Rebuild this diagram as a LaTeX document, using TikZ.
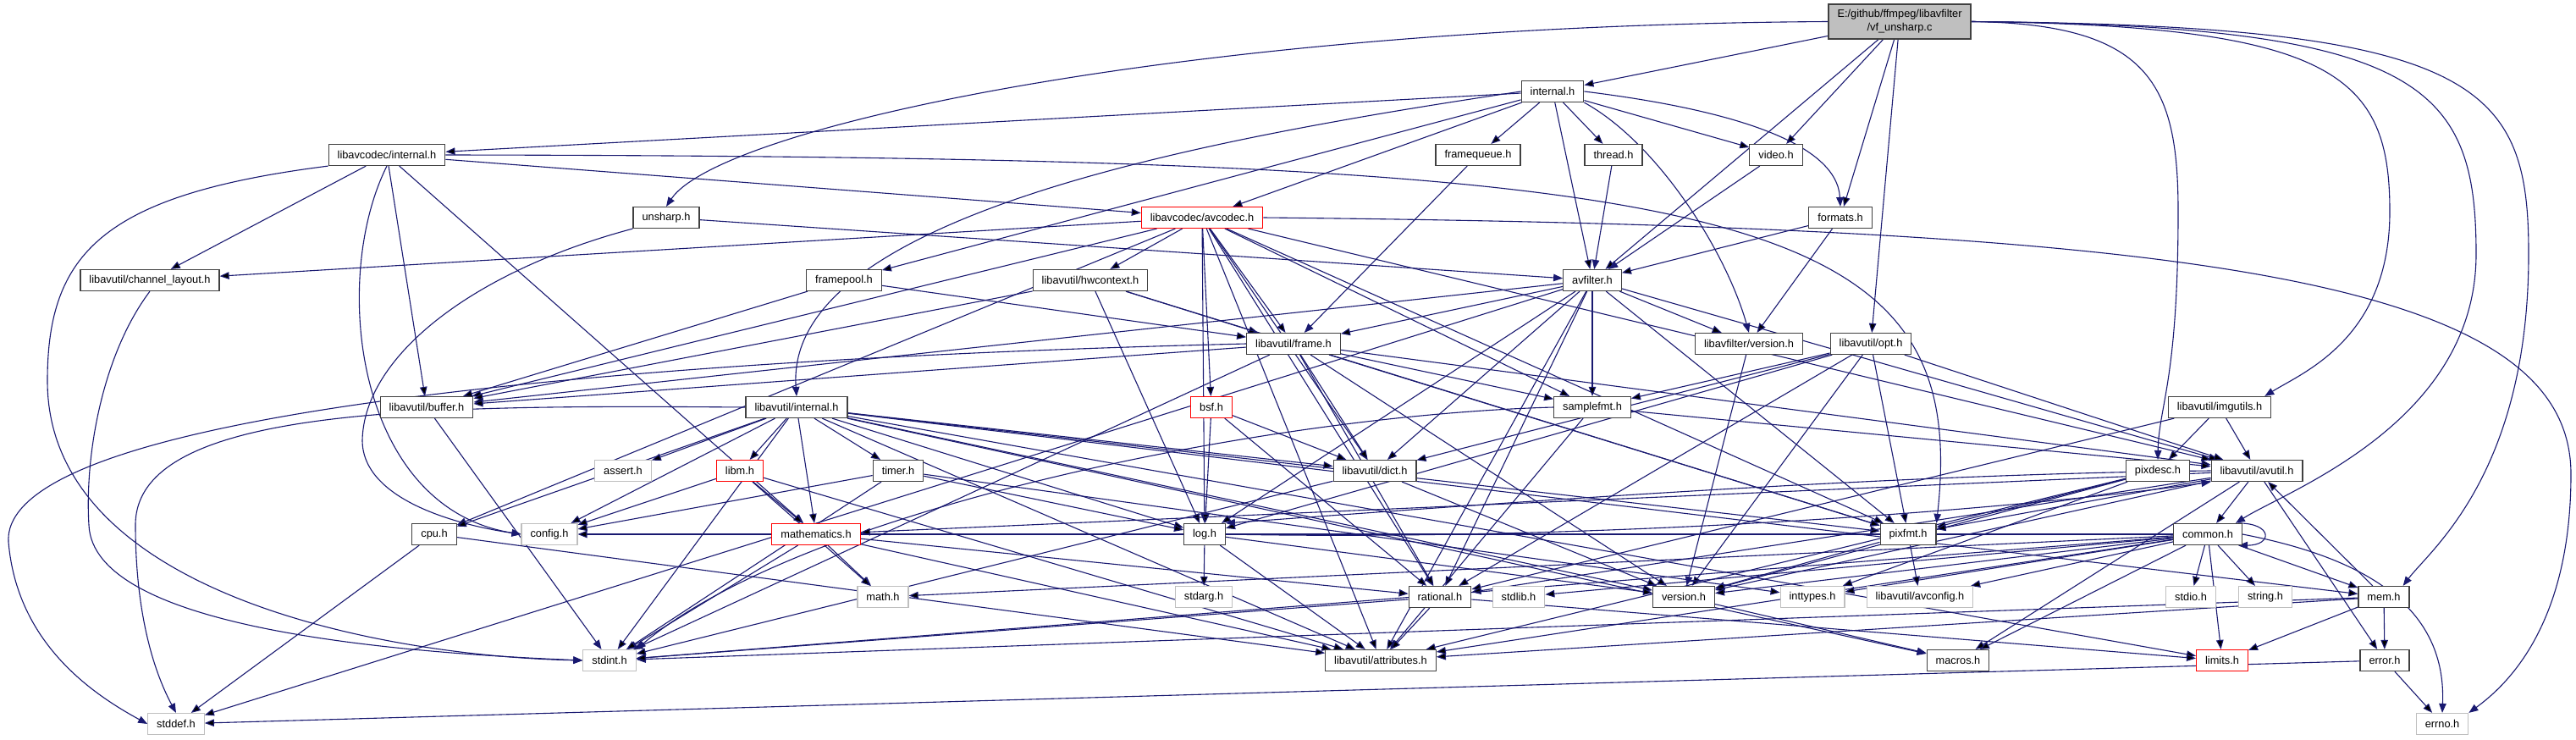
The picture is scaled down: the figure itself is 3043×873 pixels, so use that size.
\documentclass[tikz,border=0pt]{standalone}
\usepackage{fontspec}
\setmainfont{Liberation Sans}
\usetikzlibrary{arrows.meta,positioning,backgrounds}
\definecolor{edgeblue}{HTML}{191970}
\definecolor{rootgray}{HTML}{BFBFBF}
\newcommand{\dotfont}{\fontsize{12.8pt}{16pt}\selectfont}

\begin{document}
\begin{tikzpicture}[
    x=1pt, y=1pt,
    file/.style={draw=black!75, line width=1.2pt, fill=white, inner xsep=10.5pt,
        inner ysep=0pt, minimum height=25pt, font=\dotfont},
    sysfile/.style={file, draw=rootgray},
    cutfile/.style={file, draw=red},
    dep/.style={draw=edgeblue, line width=1.1pt, -{Triangle[length=11pt,width=8.5pt]}}
]
    \useasboundingbox (0,0) rectangle (3043,-873);

    % row 0-3
    \node[file, fill=rootgray, align=center, minimum height=41pt] (root) at (2244,-25.5)
        {E:/github/ffmpeg/libavfilter\\/vf\_unsharp.c};
    \node[file] (lavfint) at (1834,-108) {internal.h};
    \node[file] (fqueue) at (1746,-183) {framequeue.h};
    \node[file] (thread) at (1906,-183) {thread.h};
    \node[file] (video) at (2098,-183) {video.h};
    \node[file] (lavcint) at (457,-183) {libavcodec/internal.h};
    \node[file] (formats) at (2174,-257) {formats.h};
    \node[file] (unsharp) at (787,-257) {unsharp.h};
    \node[cutfile] (avcodec) at (1420,-257) {libavcodec/avcodec.h};

    % row 4-5
    \node[file] (chlayout) at (177,-331) {libavutil/channel\_layout.h};
    \node[file] (fpool) at (997,-331) {framepool.h};
    \node[file] (hwctx) at (1288,-331) {libavutil/hwcontext.h};
    \node[file] (avfilter) at (1881,-331) {avfilter.h};
    \node[file] (frame) at (1528,-406) {libavutil/frame.h};
    \node[file] (lavfver) at (2066,-406) {libavfilter/version.h};
    \node[file] (opt) at (2210,-406) {libavutil/opt.h};

    % row 6-7
    \node[file] (buffer) at (504,-481) {libavutil/buffer.h};
    \node[file] (lavuint) at (941,-481) {libavutil/internal.h};
    \node[cutfile] (bsf) at (1431,-481) {bsf.h};
    \node[file] (sfmt) at (1881,-481) {samplefmt.h};
    \node[file] (imgutils) at (2622,-481) {libavutil/imgutils.h};
    \node[sysfile] (assert) at (736,-556) {assert.h};
    \node[cutfile] (libm) at (874,-556) {libm.h};
    \node[file] (timer) at (1061,-556) {timer.h};
    \node[file] (dict) at (1624,-556) {libavutil/dict.h};
    \node[file] (pixdesc) at (2549,-556) {pixdesc.h};
    \node[file] (avutil) at (2666,-556) {libavutil/avutil.h};

    % row 8-9
    \node[file] (cpu) at (513,-631) {cpu.h};
    \node[sysfile] (config) at (649,-631) {config.h};
    \node[cutfile] (mathem) at (964,-631) {mathematics.h};
    \node[file] (log) at (1423,-631) {log.h};
    \node[file] (pixfmt) at (2254,-631) {pixfmt.h};
    \node[file] (common) at (2608,-631) {common.h};
    \node[sysfile] (math) at (1043,-705) {math.h};
    \node[sysfile] (stdarg) at (1422,-705) {stdarg.h};
    \node[file] (rational) at (1701,-705) {rational.h};
    \node[sysfile] (stdlib) at (1794,-705) {stdlib.h};
    \node[file] (version) at (1989,-705) {version.h};
    \node[sysfile] (inttypes) at (2141,-705) {inttypes.h};
    \node[sysfile] (avconfig) at (2268,-705) {libavutil/avconfig.h};
    \node[sysfile] (stdio) at (2588,-705) {stdio.h};
    \node[sysfile] (string) at (2676,-705) {string.h};
    \node[file] (mem) at (2816,-705) {mem.h};

    % row 10-11
    \node[sysfile] (stdint) at (720,-780) {stdint.h};
    \node[file] (attr) at (1631,-780) {libavutil/attributes.h};
    \node[file] (macros) at (2313,-780) {macros.h};
    \node[cutfile] (limits) at (2625,-780) {limits.h};
    \node[file] (error) at (2817,-780) {error.h};
    \node[sysfile] (stddef) at (208,-855) {stddef.h};
    \node[sysfile] (errno) at (2885,-855) {errno.h};

    \begin{scope}[on background layer]
    % vf_unsharp.c
    \draw[dep] (root) edge (lavfint) edge (video) edge (formats) edge (avfilter) edge (opt);
    \draw[dep] (root.west) .. controls (1400,-30) and (850,-150) .. (unsharp.north);
    \draw[dep] (root.east) .. controls (2540,-28) and (2573,-100) .. (2573,-250)
        .. controls (2573,-450) and (2550,-480) .. (pixdesc.north);
    \draw[dep] (root.east) .. controls (2760,-30) and (2823,-90) .. (2823,-250)
        .. controls (2823,-400) and (2720,-440) .. ([xshift=-8pt]imgutils.north east);
    \draw[dep] (root.east) .. controls (2860,-30) and (2925,-100) .. (2925,-300)
        .. controls (2925,-500) and (2700,-580) .. ([xshift=-8pt]common.north east);
    \draw[dep] (root.east) .. controls (2930,-30) and (2987,-100) .. (2987,-300)
        .. controls (2987,-560) and (2870,-650) .. ([xshift=-8pt]mem.north east);

    % libavfilter/internal.h
    \draw[dep] (lavfint) edge (lavcint) edge (avcodec) edge (fpool) edge (fqueue)
        edge (thread) edge (video) edge (avfilter);
    \draw[dep] (lavfint.south east) .. controls (1960,-170) and (2040,-300) .. (lavfver.north);
    \draw[dep] (lavfint.east) .. controls (2050,-130) and (2170,-170) .. (formats.north);
    \draw[dep] (lavfint.west) .. controls (1450,-160) and (925,-250) .. (lavuint.north);

    % unsharp.h, framepool.h, framequeue.h, thread.h, video.h, formats.h
    \draw[dep] (unsharp) -- (avfilter);
    \draw[dep] (unsharp.south west) .. controls (560,-320) and (430,-420) .. (428,-520)
        .. controls (428,-590) and (540,-620) .. (config.west);
    \draw[dep] (fpool) edge (buffer) edge (frame);
    \draw[dep] (fqueue) -- (frame);
    \draw[dep] (thread) -- (avfilter);
    \draw[dep] (video) -- (avfilter);
    \draw[dep] (formats) edge (avfilter) edge (lavfver);
    \draw[dep] (lavfver) -- (version);

    % libavcodec/internal.h
    \draw[dep] (lavcint) edge (chlayout) edge (buffer) edge (mathem) edge (avcodec);
    \draw[dep] (lavcint.south) .. controls (390,-330) and (420,-600) .. (config.west);
    \draw[dep] (lavcint.east) .. controls (2050,-185) and (2330,-240) .. (pixfmt.north east);
    \draw[dep] (lavcint.south west) .. controls (120,-230) and (56,-300) .. (56,-450)
        .. controls (56,-700) and (450,-775) .. (stdint.west);

    % libavcodec/avcodec.h
    \draw[dep] (avcodec) edge (chlayout) edge (buffer) edge (cpu) edge (hwctx) edge (frame)
        edge (bsf) edge (log) edge (dict) edge (rational) edge (attr) edge (sfmt)
        edge (avutil) edge (pixfmt);
    \draw[dep] (avcodec.east) .. controls (2600,-268) and (3037,-330) .. (3037,-560)
        .. controls (3037,-740) and (2960,-810) .. (errno.north east);

    % libavutil/hwcontext.h
    \draw[dep] (hwctx) edge (buffer) edge (frame) edge (log) edge (pixfmt);

    % avfilter.h
    \draw[dep] (avfilter) edge (buffer) edge (frame) edge (dict) edge (sfmt) edge (lavfver)
        edge (log) edge (rational) edge (attr) edge (pixfmt) edge (avutil) edge (stddef);

    % libavutil/frame.h
    \draw[dep] (frame) edge (buffer) edge (dict) edge (sfmt) edge (rational) edge (stdint)
        edge (pixfmt) edge (avutil) edge (version);
    \draw[dep] (frame.west) .. controls (900,-420) and (0,-470) .. (10,-640)
        .. controls (20,-760) and (110,-820) .. (stddef.west);

    % libavutil/internal.h
    \draw[dep] (lavuint) edge (assert) edge (libm) edge (timer) edge (cpu) edge (config)
        edge (mathem) edge (stdint) edge (dict) edge (log) edge (pixfmt) edge (version)
        edge (attr) edge (macros) edge (mem) edge (limits);
    \draw[dep] (lavuint.west) .. controls (500,-478) and (160,-480) .. (160,-620)
        .. controls (160,-720) and (180,-790) .. (stddef.north);

    % bsf.h, samplefmt.h, dict.h, opt.h
    \draw[dep] (bsf) edge (dict) edge (log) edge (rational);
    \draw[dep] (sfmt) edge (avutil) edge (attr);
    \draw[dep] (sfmt.west) .. controls (1500,-490) and (950,-600) .. (stdint.north east);
    \draw[dep] (dict) edge (stdint) edge (version);
    \draw[dep] (opt) edge (sfmt) edge (dict) edge (log) edge (rational) edge (pixfmt)
        edge (version) edge (avutil);

    % imgutils.h, pixdesc.h
    \draw[dep] (imgutils) edge (pixdesc) edge (avutil) edge (rational);
    \draw[dep] (pixdesc) edge (pixfmt) edge (version) edge (attr) edge (inttypes);

    % libavutil/avutil.h
    \draw[dep] (avutil) edge (common) edge (error) edge (macros) edge (pixfmt) edge (version)
        edge (rational) edge (mathem);
    \draw[dep] (avutil.west) .. controls (2200,-560) and (1700,-600) .. (log.north east);

    % common.h
    \draw[dep] (common) edge (stdio) edge (string) edge (mem) edge (limits) edge (macros)
        edge (attr) edge (version) edge (avconfig) edge (inttypes) edge (stdlib)
        edge (stdint) edge (math) edge (config);
    \draw[dep] (common.east) .. controls (2800,-660) and (2890,-720) .. (errno.north);
    \draw[dep] (common.20) to[out=0, in=0, looseness=4] (common.-20);

    % mem.h, error.h, log.h, pixfmt.h
    \draw[dep] (mem) edge (error) edge (limits) edge (stdint) edge (attr) edge (avutil);
    \draw[dep] (error) edge (errno) edge (stddef);
    \draw[dep] (log) edge (stdarg) edge (attr) edge (version);
    \draw[dep] (log.east) .. controls (1900,-640) and (2400,-600) .. (avutil.south west);
    \draw[dep] (pixfmt) edge (avconfig) edge (version);

    % rational.h, version.h, mathematics.h, libm.h, timer.h, cpu.h
    \draw[dep] (rational) edge (attr) edge (stdint) edge (limits);
    \draw[dep] (version) -- (macros);
    \draw[dep] (mathem) edge (math) edge (rational) edge (attr) edge (stdint);
    \draw[dep] (libm) edge (math) edge (config) edge (attr) edge (mathem);
    \draw[dep] (timer) edge (config) edge (log) edge (inttypes) edge (stdint);
    \draw[dep] (cpu) edge (stddef) edge (attr);

    % buffer.h, channel_layout.h
    \draw[dep] (buffer) -- (stdint);
    \draw[dep] (chlayout.south) .. controls (120,-420) and (100,-540) .. (105,-620)
        .. controls (110,-740) and (450,-770) .. (stdint.west);
    \end{scope}
\end{tikzpicture}
\end{document}
